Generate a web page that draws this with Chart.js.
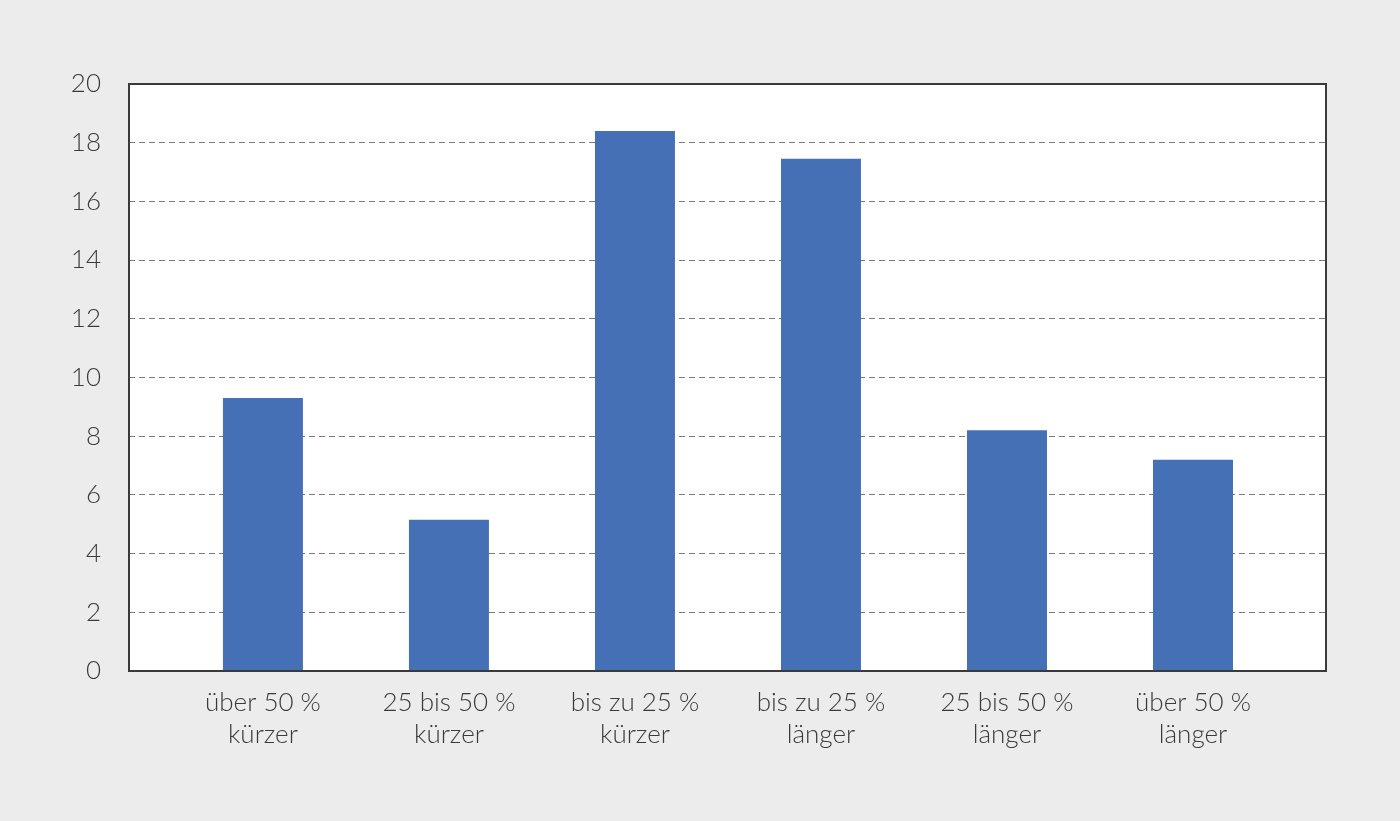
<!DOCTYPE html>
<html>
<head>
<meta charset="utf-8">
<script src="https://cdn.jsdelivr.net/npm/chart.js@4"></script>
<style>
    html, body { margin: 0; padding: 0; background: #ececec; }
    #wrap { width: 1400px; height: 821px; position: relative; }
</style>
</head>
<body>
<div id="wrap"><canvas id="chart"></canvas></div>
<script>
// Abweichung der Dauer (Kategorien) und Anteile in %
const categories = [
    ['über 50 %', 'kürzer'],
    ['25 bis 50 %', 'kürzer'],
    ['bis zu 25 %', 'kürzer'],
    ['bis zu 25 %', 'länger'],
    ['25 bis 50 %', 'länger'],
    ['über 50 %', 'länger']
];
const values = [9.3, 5.15, 18.4, 17.45, 8.2, 7.2];
const yMin = 0;
const yMax = 20;
const yStep = 2;

// Rahmen um die Zeichenfläche
const frame = {
    id: 'frame',
    afterDraw(chart) {
        const a = chart.chartArea;
        const c = chart.ctx;
        c.save();
        c.strokeStyle = '#3a3a3a';
        c.lineWidth = 2;
        c.strokeRect(a.left, a.top, a.right - a.left, a.bottom - a.top);
        c.restore();
    }
};

const plotBg = {
    id: 'plotBg',
    beforeDraw(chart) {
        const a = chart.chartArea;
        const c = chart.ctx;
        c.save();
        c.fillStyle = '#ffffff';
        c.fillRect(a.left, a.top, a.right - a.left, a.bottom - a.top);
        c.restore();
    }
};

function renderChart() {
    const ctx = document.getElementById('chart').getContext('2d');
    // Kategorien als Positionen 0..5 auf einer linearen Achse, damit links und rechts Rand bleibt
    const points = values.map((v, i) => ({ x: i, y: v }));
    new Chart(ctx, {
        type: 'bar',
        data: {
            datasets: [{
                data: points,
                backgroundColor: '#4570b5',
                barPercentage: 0.43,
                categoryPercentage: 1
            }]
        },
        options: {
            responsive: true,
            maintainAspectRatio: false,
            animation: false,
            layout: { padding: { top: 84, right: 74, bottom: 0, left: 0 } },
            plugins: {
                legend: { display: false },
                tooltip: { enabled: false }
            },
            scales: {
                x: {
                    type: 'linear',
                    min: -0.72,
                    max: 5.715,
                    offset: false,
                    grid: { display: false },
                    border: { display: false },
                    afterBuildTicks(scale) {
                        scale.ticks = categories.map((c, i) => ({ value: i }));
                    },
                    ticks: {
                        color: '#3a3a3a',
                        padding: 8,
                        maxRotation: 0,
                        autoSkip: false,
                        callback: (value) => categories[value],
                        font: { family: 'Lato', size: 26, weight: 300, lineHeight: 1.23 }
                    },
                    afterFit(scale) { scale.height = 150; }
                },
                y: {
                    min: yMin,
                    max: yMax,
                    grid: {
                        color: '#7a7a7a',
                        lineWidth: 1,
                        drawTicks: false
                    },
                    border: { display: false, dash: [6, 4] },
                    ticks: {
                        stepSize: yStep,
                        color: '#3a3a3a',
                        padding: 28,
                        font: { family: 'Lato', size: 26, weight: 300 }
                    },
                    afterFit(scale) { scale.width = 129; }
                }
            }
        },
        plugins: [plotBg, frame]
    });
}

renderChart();
</script>
</body>
</html>
